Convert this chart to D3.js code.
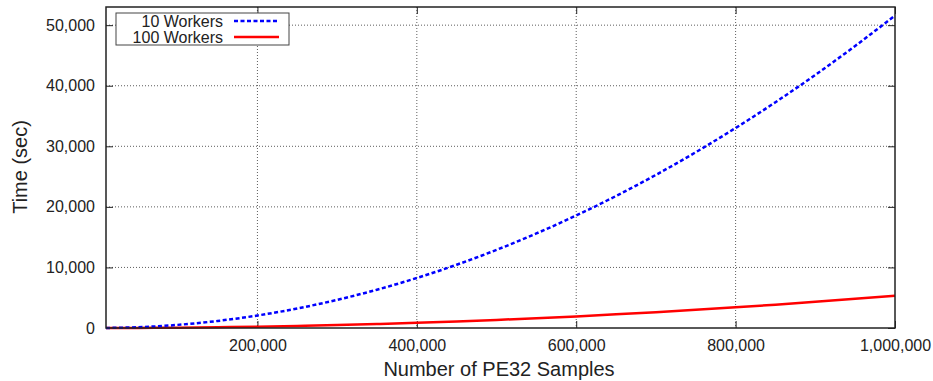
<!DOCTYPE html>
<html>
<head>
<meta charset="utf-8">
<script src="https://cdn.jsdelivr.net/npm/d3@7"></script>
<style>
  body { margin: 0; background: #fff; }
  text { font-family: "Liberation Sans", Arial, sans-serif; fill: #222; }
</style>
</head>
<body>
<script>
// samples (x) and time in seconds for each worker setup
var samples = [10000, 50000, 100000, 150000, 200000, 250000, 300000, 350000, 400000, 450000,
  500000, 550000, 600000, 650000, 700000, 750000, 800000, 850000, 900000, 950000, 1000000];
var time10 = [5, 129, 516, 1161, 2064, 3225, 4644, 6321, 8256, 10449,
  12900, 15609, 18576, 21801, 25284, 29025, 33024, 37281, 41796, 46569, 51600];
var time100 = [1, 13, 53, 120, 213, 333, 480, 653, 853, 1079,
  1333, 1612, 1919, 2252, 2612, 2998, 3411, 3851, 4317, 4810, 5330];
var xTicks = [200000, 400000, 600000, 800000, 1000000];
var yTicks = [0, 10000, 20000, 30000, 40000, 50000];
var seriesNames = ["10 Workers", "100 Workers"];

var W = 933, H = 381;
var pL = 106, pR = 895, pT = 7, pB = 328;

var svg = d3.select("body").append("svg")
    .attr("width", W)
    .attr("height", H);

var x = d3.scaleLinear().domain([10000, 1000000]).range([pL, pR]);
var y = d3.scaleLinear().domain([0, 53000]).range([pB, pT]);
var fmt = d3.format(",");

// grid
svg.selectAll("line.vgrid")
    .data(xTicks.filter(function(d) { return d < 1000000; }))
    .enter().append("line")
    .attr("x1", function(d) { return x(d); })
    .attr("x2", function(d) { return x(d); })
    .attr("y1", pT).attr("y2", pB)
    .attr("stroke", "#333").attr("stroke-width", 0.8)
    .attr("stroke-dasharray", "1,2");
svg.selectAll("line.hgrid")
    .data(yTicks.filter(function(d) { return d > 0; }))
    .enter().append("line")
    .attr("x1", pL).attr("x2", pR)
    .attr("y1", function(d) { return y(d); })
    .attr("y2", function(d) { return y(d); })
    .attr("stroke", "#333").attr("stroke-width", 0.8)
    .attr("stroke-dasharray", "1,2");

// axes, ticks pointing inward plus mirrored ticks
var xAxisB = d3.axisBottom(x).tickValues(xTicks).tickSizeInner(-7).tickSizeOuter(0).tickFormat(fmt).tickPadding(12);
var gx = svg.append("g").attr("transform", "translate(0," + pB + ")").call(xAxisB);
var xAxisT = d3.axisTop(x).tickValues(xTicks).tickSizeInner(-7).tickSizeOuter(0).tickFormat("");
var gxt = svg.append("g").attr("transform", "translate(0," + pT + ")").call(xAxisT);
var yAxisL = d3.axisLeft(y).tickValues(yTicks).tickSizeInner(-7).tickSizeOuter(0).tickFormat(fmt).tickPadding(11);
var gy = svg.append("g").attr("transform", "translate(" + pL + ",0)").call(yAxisL);
var yAxisR = d3.axisRight(y).tickValues(yTicks).tickSizeInner(-7).tickSizeOuter(0).tickFormat("");
var gyr = svg.append("g").attr("transform", "translate(" + pR + ",0)").call(yAxisR);

[gx, gxt, gy, gyr].forEach(function(g) {
  g.select(".domain").remove();
  g.selectAll(".tick line").attr("stroke", "#222").attr("stroke-width", 1);
  g.selectAll("text").style("font-size", "16px").attr("fill", "#222")
    .style("font-family", "Liberation Sans, Arial, sans-serif");
});

// lines
var lineGen = d3.line()
    .x(function(d, i) { return x(samples[i]); })
    .y(function(d) { return y(d); })
    .curve(d3.curveMonotoneX);

svg.append("path")
    .datum(time100)
    .attr("d", lineGen)
    .attr("fill", "none")
    .attr("stroke", "#ff0000")
    .attr("stroke-width", 2.5);

svg.append("path")
    .datum(time10)
    .attr("d", lineGen)
    .attr("fill", "none")
    .attr("stroke", "#0000ff")
    .attr("stroke-width", 2.5)
    .attr("stroke-dasharray", "4,2.5");

// border box
svg.append("rect")
    .attr("x", pL).attr("y", pT)
    .attr("width", pR - pL).attr("height", pB - pT)
    .attr("fill", "none").attr("stroke", "#222").attr("stroke-width", 1.5);

// legend
var lg = svg.append("g");
lg.append("rect")
    .attr("x", 116).attr("y", 13).attr("width", 173).attr("height", 32)
    .attr("fill", "#fff").attr("stroke", "#444").attr("stroke-width", 1);
var legColors = ["#0000ff", "#ff0000"];
var legDash = ["4,2.5", null];
seriesNames.forEach(function(name, i) {
  var yy = 21 + i * 16;
  lg.append("text")
      .attr("x", 223).attr("y", yy + 5.5)
      .attr("text-anchor", "end")
      .style("font-size", "16px")
      .text(name);
  lg.append("line")
      .attr("x1", 234).attr("x2", 279)
      .attr("y1", yy).attr("y2", yy)
      .attr("stroke", legColors[i])
      .attr("stroke-width", 2.5)
      .attr("stroke-dasharray", legDash[i]);
});

// axis titles
svg.append("text")
    .attr("x", 499)
    .attr("y", 376)
    .attr("text-anchor", "middle")
    .style("font-size", "20px")
    .text("Number of PE32 Samples");

svg.append("text")
    .attr("transform", "translate(27,167) rotate(-90)")
    .attr("text-anchor", "middle")
    .style("font-size", "20px")
    .text("Time (sec)");
</script>
</body>
</html>
